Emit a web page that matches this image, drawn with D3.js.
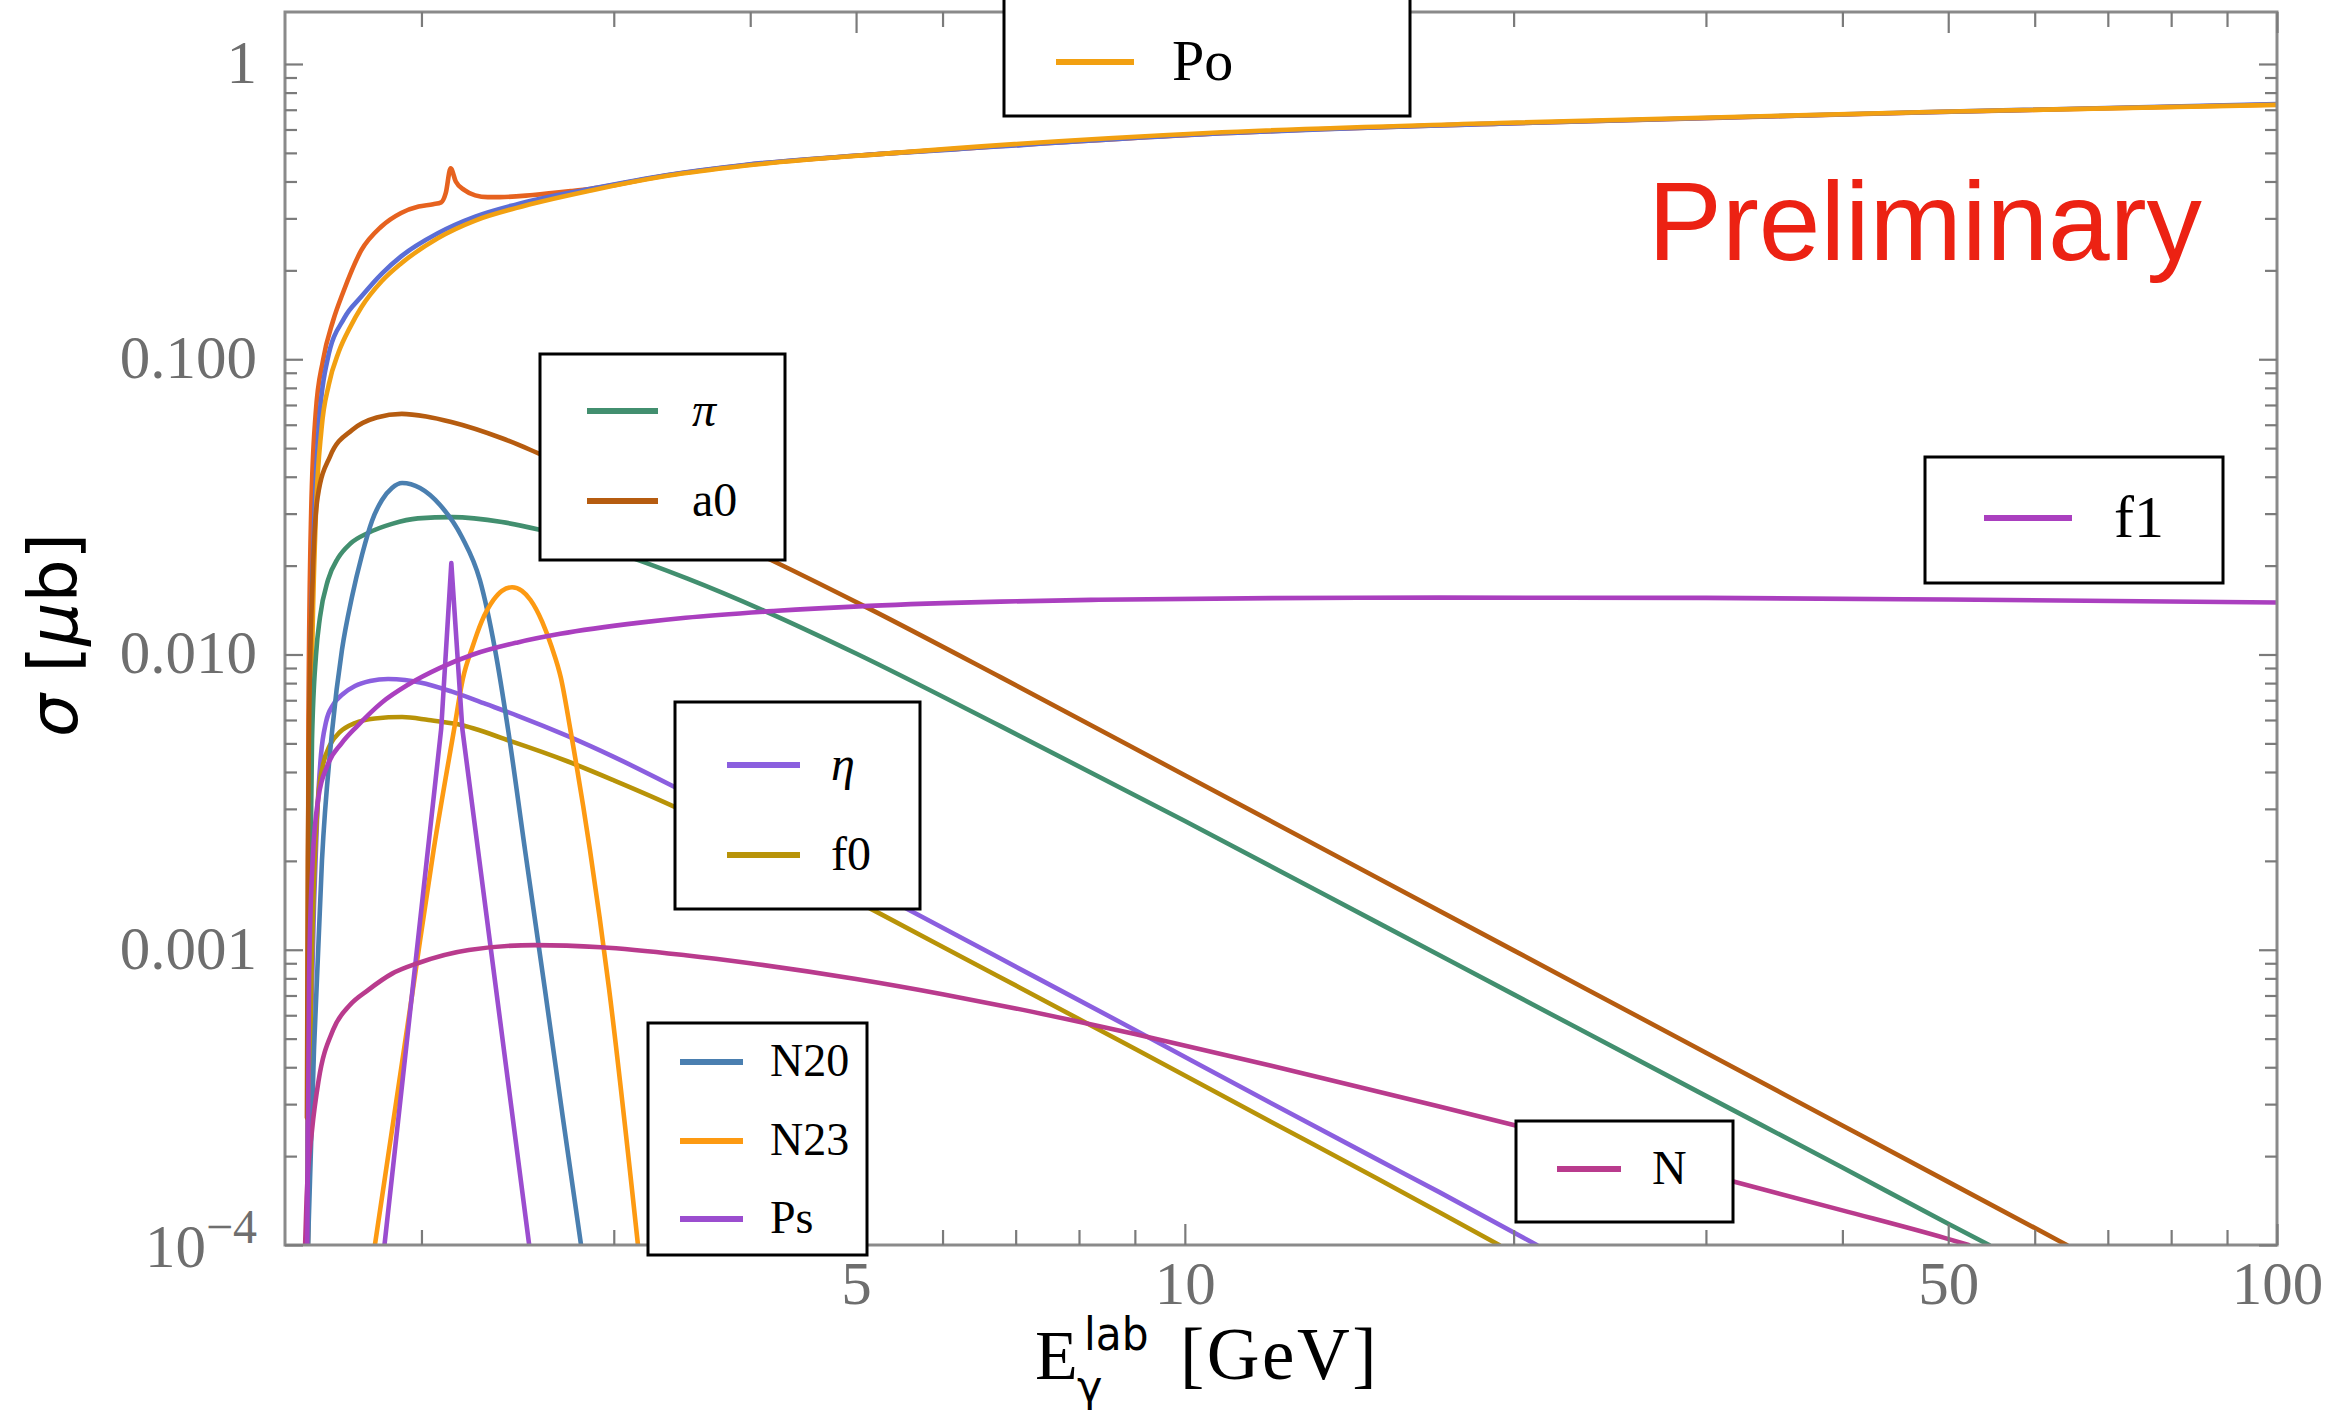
<!DOCTYPE html>
<html><head><meta charset="utf-8">
<script src="https://cdn.jsdelivr.net/npm/d3@7"></script>
<style>html,body{margin:0;padding:0;background:#fff;}svg{display:block;}</style>
</head><body>
<svg id="chart" width="2343" height="1414"></svg>
<script>
// ---------------- data (E in GeV, sigma in microbarn) ----------------
// two upper curves whose legend rows sit above the visible frame
const topA = [[1.572,1e-4],[1.576,0.006],[1.585,0.03],[1.60,0.065],[1.625,0.099],[1.66,0.135],[1.695,0.168],[1.762,0.234],[1.837,0.281],[1.916,0.313],[1.988,0.329],[2.05,0.335],[2.085,0.340],[2.105,0.365],[2.127,0.443],[2.15,0.40],[2.19,0.374],[2.24,0.359],[2.30,0.354],[2.36,0.354],[2.53,0.360],[2.74,0.371],[2.86,0.378],[3.36,0.420],[3.95,0.454],[5.32,0.497],[6.15,0.515],[10.5,0.580],[19.4,0.628],[48,0.686],[100,0.729]];
const topB = [[1.572,1e-4],[1.58,0.0056],[1.595,0.028],[1.61,0.058],[1.64,0.099],[1.70,0.138],[1.762,0.163],[1.84,0.195],[1.916,0.223],[2.07,0.267],[2.24,0.304],[2.44,0.334],[2.86,0.378],[3.36,0.421],[3.95,0.455],[5.32,0.497],[6.15,0.514],[10.5,0.579],[19.4,0.628],[48,0.687],[100,0.732]];
const po = [[1.573,1e-4],[1.585,0.0056],[1.60,0.028],[1.62,0.058],[1.645,0.082],[1.68,0.106],[1.72,0.128],[1.762,0.150],[1.84,0.184],[1.916,0.211],[2.07,0.257],[2.24,0.295],[2.44,0.325],[2.86,0.373],[3.36,0.418],[3.95,0.452],[5.32,0.497],[6.15,0.518],[10.5,0.584],[19.4,0.631],[48,0.688],[100,0.727]];
const pi = [[1.574,1e-4],[1.5812,0.00147],[1.5879,0.00513],[1.6013,0.00996],[1.6149,0.0134],[1.6424,0.0179],[1.6773,0.0212],[1.7205,0.0237],[1.7869,0.0258],[1.8795,0.0277],[1.9848,0.0289],[2.133,0.0292],[2.37,0.0281],[2.56,0.0265],[3.0,0.0223],[3.5,0.0181],[4.14,0.01395],[5.0,0.01008],[6.78,0.00572],[10,0.00273],[15,0.001238],[20,0.000706],[30,0.00032],[40,0.000183],[50,0.000118],[54.5,0.0001]];
const a0 = [[1.571,0.00027],[1.574,0.002],[1.578,0.0056],[1.59,0.018],[1.607,0.0342],[1.65,0.047],[1.728,0.0576],[1.82,0.0635],[1.919,0.0653],[2.02,0.064],[2.13,0.0613],[2.37,0.0540],[2.56,0.0480],[3.0,0.0370],[3.5,0.0285],[4.18,0.0209],[5.14,0.0143],[6.78,0.00838],[10,0.0039],[15,0.001753],[20,0.000995],[30,0.000448],[40,0.000254],[50,0.0001636],[64.2,0.0001]];
const eta = [[1.574,1e-4],[1.5844,0.000535],[1.5945,0.001418],[1.6047,0.002751],[1.6182,0.004566],[1.6355,0.005908],[1.6596,0.006745],[1.695,0.007348],[1.7385,0.00782],[1.7943,0.00813],[1.8642,0.00826],[1.9317,0.0082],[1.994,0.00804],[2.13,0.0075],[2.29,0.0068],[2.45,0.0062],[2.72,0.0053],[3.0,0.0045],[3.43,0.00352],[4.2,0.00238],[5.17,0.00159],[6.72,0.00095],[9,0.000535],[12,0.000302],[15,0.000195],[17.1,0.000151],[20.6,0.000104],[21,0.0001]];
const f0 = [[1.574,1e-4],[1.5844,0.000676],[1.5945,0.001723],[1.608,0.003215],[1.6251,0.004224],[1.6493,0.00494],[1.6845,0.005465],[1.7385,0.00586],[1.813,0.00607],[1.92,0.00614],[2.03,0.0060],[2.16,0.0058],[2.41,0.0051],[2.72,0.00435],[3.0,0.00375],[3.43,0.00302],[4.2,0.00206],[5.17,0.00137],[6.72,0.00082],[9,0.000462],[12,0.000261],[15,0.000168],[17.1,0.000129],[19.4,0.0001]];
const n20 = [[1.5746,1e-4],[1.5945,0.000458],[1.6216,0.00201],[1.657,0.00555],[1.6914,0.01036],[1.7274,0.01565],[1.7643,0.02173],[1.8019,0.02834],[1.8404,0.03337],[1.8795,0.03664],[1.920,0.03809],[1.994,0.03664],[2.080,0.03209],[2.178,0.0250],[2.262,0.01788],[2.336,0.01036],[2.401,0.00555],[2.488,0.002177],[2.595,0.000731],[2.695,0.000269],[2.800,0.0001]];
const n23 = [[1.813,1e-4],[1.965,0.00074],[2.052,0.00218],[2.142,0.00555],[2.183,0.00831],[2.227,0.0106],[2.27,0.0129],[2.328,0.0153],[2.370,0.01643],[2.421,0.0169],[2.472,0.01643],[2.517,0.0153],[2.58,0.0129],[2.632,0.0106],[2.684,0.00831],[2.738,0.00555],[2.853,0.00218],[2.970,0.00074],[3.157,0.0001]];
const ps = [[1.85,1e-4],[2.085,0.0056],[2.13,0.0204],[2.18,0.0056],[2.51,0.0001]];
const nuc = [[1.565,1e-4],[1.57,0.000145],[1.588,0.000245],[1.61,0.00036],[1.66,0.000535],[1.72,0.00065],[1.787,0.00073],[1.88,0.00083],[1.984,0.0009],[2.21,0.000998],[2.54,0.001037],[2.92,0.00102],[3.49,0.000958],[4.0,0.0009],[5.0,0.000796],[6.0,0.000707],[7.0,0.000633],[9.0,0.000518],[12,0.000405],[17.1,0.0002945],[20,0.000255],[31.6,0.0001651],[40,0.000131],[49.6,0.0001057],[52.2,0.0001]];
const f1 = [[1.572,1e-4],[1.578,0.0008],[1.59,0.002],[1.61,0.0033],[1.64,0.0042],[1.69,0.0050],[1.745,0.0057],[1.84,0.00688],[1.944,0.0079],[2.08,0.00901],[2.23,0.0100],[2.45,0.01099],[2.68,0.01175],[3.17,0.01282],[3.49,0.01332],[4.2,0.01403],[5.14,0.01461],[6.78,0.0151],[8.34,0.01532],[12,0.01552],[17.1,0.01558],[30,0.01555],[50,0.01535],[100,0.0150]];

const seriesNames = ["topA","topB","Po","π","a0","η","f0","N20","N23","Ps","N","f1"];
const seriesData  = [topA, topB, po, pi, a0, eta, f0, n20, n23, ps, nuc, f1];

const xMajorTicks = [5, 10, 50, 100];
const xMajorLabels = ["5", "10", "50", "100"];
const xMinorTicks = [2, 3, 4, 6, 7, 8, 9, 20, 30, 40, 60, 70, 80, 90];
const yMajorTicks = [1e-4, 1e-3, 1e-2, 0.1, 1];
const yMajorLabels = ["10|−4", "0.001", "0.010", "0.100", "1"];
const yMinorTicks = [2e-4,3e-4,4e-4,5e-4,6e-4,7e-4,8e-4,9e-4,2e-3,3e-3,4e-3,5e-3,6e-3,7e-3,8e-3,9e-3,0.02,0.03,0.04,0.05,0.06,0.07,0.08,0.09,0.2,0.3,0.4,0.5,0.6,0.7,0.8,0.9];

// ---------------- styles / layout ----------------
const colors = {
  "topA":"#e6621f","topB":"#5b6ed6","Po":"#f2a011","π":"#428f6f","a0":"#b65c10",
  "η":"#8b5fdf","f0":"#b89308","N20":"#4a7fb0","N23":"#fd9a12","Ps":"#9b4dcf",
  "N":"#b93b8d","f1":"#aa3fbf"
};
const italicNames = {"π":true, "η":true};
const legendLayout = [
  {names:["Po"], box:[1004,-40,406,156], lineX:[1056,1134], rows:[62], textX:1172, fs:58},
  {names:["π","a0"], box:[540,354,245,206], lineX:[587,658], rows:[411,501], textX:692, fs:48},
  {names:["η","f0"], box:[675,702,245,207], lineX:[727,800], rows:[765,855], textX:831, fs:48},
  {names:["N20","N23","Ps"], box:[648,1023,219,232], lineX:[680,743], rows:[1062,1141,1219], textX:770, fs:46},
  {names:["f1"], box:[1925,457,298,126], lineX:[1984,2072], rows:[518], textX:2114, fs:60},
  {names:["N"], box:[1516,1121,217,101], lineX:[1557,1621], rows:[1169], textX:1652, fs:48}
];

const L = 285, R = 2277, T = 12, B = 1245;
const svg = d3.select("#chart");
const x = d3.scaleLog().domain([1.5, 100]).range([L, R]);
const y = d3.scaleLog().domain([1e-4, 1.5]).range([B, T]);

svg.append("defs").append("clipPath").attr("id","plotclip")
  .append("rect").attr("x",L).attr("y",T).attr("width",R-L).attr("height",B-T);

// curves
const gCurves = svg.append("g").attr("clip-path","url(#plotclip)");
seriesNames.forEach((name, i) => {
  const line = d3.line().x(d => x(d[0])).y(d => y(d[1]))
    .curve(name === "Ps" ? d3.curveLinear : d3.curveMonotoneX);
  gCurves.append("path").datum(seriesData[i])
    .attr("d", line).attr("fill","none")
    .attr("stroke", colors[name]).attr("stroke-width", 4.6)
    .attr("stroke-linejoin","round").attr("stroke-linecap","round");
});

// frame
svg.append("rect").attr("x",L).attr("y",T).attr("width",R-L).attr("height",B-T)
  .attr("fill","none").attr("stroke","#8a8a8a").attr("stroke-width",3);

const tickColor = "#7b7b7b";
const serif = "'Liberation Serif','Times New Roman',serif";
const sans = "'DejaVu Sans',sans-serif";
function styleAxis(g){
  g.select(".domain").remove();
  g.selectAll(".tick line").attr("stroke",tickColor).attr("stroke-width",2.2);
  g.selectAll(".tick text").attr("fill","#6e6e6e").attr("font-family",serif).attr("font-size",61);
}
// bottom
svg.append("g").attr("transform",`translate(0,${B})`)
  .call(d3.axisBottom(x).tickValues(xMajorTicks).tickSizeInner(-21).tickSizeOuter(0).tickPadding(16)
    .tickFormat(d => xMajorLabels[xMajorTicks.indexOf(d)])).call(styleAxis);
svg.append("g").attr("transform",`translate(0,${B})`)
  .call(d3.axisBottom(x).tickValues(xMinorTicks).tickSizeInner(-15).tickSizeOuter(0).tickFormat(() => "")).call(styleAxis);
// top
svg.append("g").attr("transform",`translate(0,${T})`)
  .call(d3.axisTop(x).tickValues(xMajorTicks).tickSizeInner(-21).tickSizeOuter(0).tickFormat(() => "")).call(styleAxis);
svg.append("g").attr("transform",`translate(0,${T})`)
  .call(d3.axisTop(x).tickValues(xMinorTicks).tickSizeInner(-15).tickSizeOuter(0).tickFormat(() => "")).call(styleAxis);
// left
const gLeft = svg.append("g").attr("transform",`translate(${L},0)`)
  .call(d3.axisLeft(y).tickValues(yMajorTicks).tickSizeInner(-18).tickSizeOuter(0).tickPadding(28)
    .tickFormat(d => yMajorLabels[yMajorTicks.indexOf(d)])).call(styleAxis);
gLeft.selectAll(".tick text").attr("dy","0.3em").each(function(d){
  const lab = yMajorLabels[yMajorTicks.indexOf(d)];
  if (lab.indexOf("|") >= 0) {
    const parts = lab.split("|");
    const t = d3.select(this).text(parts[0]).attr("dy","0.36em");
    t.append("tspan").attr("dy",-24).attr("font-size",48).text(parts[1]);
  }
});
svg.append("g").attr("transform",`translate(${L},0)`)
  .call(d3.axisLeft(y).tickValues(yMinorTicks).tickSizeInner(-12).tickSizeOuter(0).tickFormat(() => "")).call(styleAxis);
// right
svg.append("g").attr("transform",`translate(${R},0)`)
  .call(d3.axisRight(y).tickValues(yMajorTicks).tickSizeInner(-18).tickSizeOuter(0).tickFormat(() => "")).call(styleAxis);
svg.append("g").attr("transform",`translate(${R},0)`)
  .call(d3.axisRight(y).tickValues(yMinorTicks).tickSizeInner(-12).tickSizeOuter(0).tickFormat(() => "")).call(styleAxis);

// x axis title (single text element with super/subscript tspans)
const xt = svg.append("text").attr("font-family",serif).attr("font-size",70).attr("fill","#000");
xt.append("tspan").attr("x",1035).attr("y",1379).text("E");
xt.append("tspan").attr("x",1084).attr("y",1350).attr("font-family","'DejaVu Sans Condensed','DejaVu Sans',sans-serif").attr("font-size",47).text("lab");
xt.append("tspan").attr("x",1077).attr("y",1401).attr("font-family",sans).attr("font-size",43).text("γ");
xt.append("tspan").attr("x",1180).attr("y",1379).attr("font-size",73).attr("letter-spacing",2.5).text("[GeV]");

// y axis title
const yt = svg.append("text").attr("transform","translate(77,635) rotate(-90)")
  .attr("text-anchor","middle").attr("font-family",sans).attr("font-size",68).attr("fill","#000");
yt.append("tspan").attr("font-style","italic").text("σ");
yt.append("tspan").text(" [");
yt.append("tspan").attr("font-style","italic").text("μ");
yt.append("tspan").text("b]");

// Preliminary
svg.append("text").attr("x",1648).attr("y",260).attr("font-family","'Liberation Sans',Arial,sans-serif")
  .attr("font-size",112).attr("fill","#ec2213").attr("textLength",554).attr("lengthAdjust","spacingAndGlyphs")
  .text("Preliminary");

// legends
legendLayout.forEach(lg => {
  const g = svg.append("g");
  g.append("rect").attr("x",lg.box[0]).attr("y",lg.box[1]).attr("width",lg.box[2]).attr("height",lg.box[3])
    .attr("fill","#fff").attr("stroke","#000").attr("stroke-width",3);
  lg.names.forEach((nm, i) => {
    g.append("line").attr("x1",lg.lineX[0]).attr("x2",lg.lineX[1]).attr("y1",lg.rows[i]).attr("y2",lg.rows[i])
      .attr("stroke",colors[nm]).attr("stroke-width",6);
    g.append("text").attr("x",lg.textX).attr("y",lg.rows[i] + 0.31*lg.fs)
      .attr("font-family",serif).attr("font-size",lg.fs).attr("fill","#000")
      .attr("font-style", italicNames[nm] ? "italic" : "normal").text(nm);
  });
});
</script>
</body></html>
